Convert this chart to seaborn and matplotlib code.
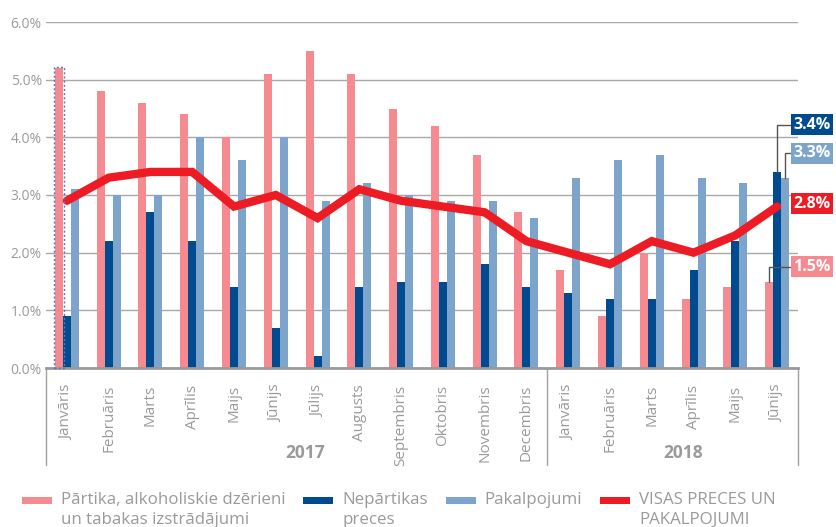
import numpy as np
import pandas as pd
import matplotlib
matplotlib.use("Agg")
import matplotlib.pyplot as plt
import matplotlib.transforms as mtransforms
from matplotlib.patches import Patch, Rectangle
from matplotlib.legend_handler import HandlerBase
import seaborn as sns

months = ["Janvāris", "Februāris", "Marts", "Aprīlis", "Maijs", "Jūnijs", "Jūlijs",
          "Augusts", "Septembris", "Oktobris", "Novembris", "Decembris",
          "Janvāris", "Februāris", "Marts", "Aprīlis", "Maijs", "Jūnijs"]
years = ["2017", "2018"]
series_names = ["Pārtika, alkoholiskie dzērieni\nun tabakas izstrādājumi",
                "Nepārtikas\npreces",
                "Pakalpojumi",
                "VISAS PRECES UN\nPAKALPOJUMI"]
food = [5.2, 4.8, 4.6, 4.4, 4.0, 5.1, 5.5, 5.1, 4.5, 4.2, 3.7, 2.7,
        1.7, 0.9, 2.0, 1.2, 1.4, 1.5]
nonfood = [0.9, 2.2, 2.7, 2.2, 1.4, 0.7, 0.2, 1.4, 1.5, 1.5, 1.8, 1.4,
           1.3, 1.2, 1.2, 1.7, 2.2, 3.4]
services = [3.1, 3.0, 3.0, 4.0, 3.6, 4.0, 2.9, 3.2, 3.0, 2.9, 2.9, 2.6,
            3.3, 3.6, 3.7, 3.3, 3.2, 3.3]
total = [2.9, 3.3, 3.4, 3.4, 2.8, 3.0, 2.6, 3.1, 2.9, 2.8, 2.7, 2.2,
         2.0, 1.8, 2.2, 2.0, 2.3, 2.8]
yticks = [0, 1, 2, 3, 4, 5, 6]

colors = ["#F58A90", "#004A8F", "#7DA4CB", "#ED1C24"]
gray = "#9A9A9A"

sns.set_style("white")
plt.rcParams["font.family"] = ["Open Sans", "DejaVu Sans"]

n = len(months)
pos = np.arange(n)
bars_df = pd.DataFrame({
    "pos": np.tile(pos, 3),
    "value": food + nonfood + services,
    "series": np.repeat(series_names[:3], n),
})
line_df = pd.DataFrame({"pos": pos, "value": total})

fig = plt.figure(figsize=(8.37, 5.27), dpi=100)
ax = fig.add_axes([46 / 837, 1 - 368 / 527, (798 - 46) / 837, (368 - 22) / 527])

sns.barplot(data=bars_df, x="pos", y="value", hue="series", hue_order=series_names[:3],
            palette=colors[:3], width=0.575, linewidth=0, saturation=1, ax=ax,
            legend=False, errorbar=None)
sns.lineplot(data=line_df, x="pos", y="value", color=colors[3], lw=6.0, ax=ax,
             legend=False)
for l in ax.lines:
    l.set_solid_joinstyle("miter")

ax.set_xlim(-0.5, n - 0.5)
ax.set_ylim(0, 6)
ax.set_yticks(yticks)
ax.set_yticklabels([f"{v:.1f}%" for v in yticks], color=gray, fontsize=10)
ax.grid(axis="y", color="#A8A8A8", lw=1)
ax.set_axisbelow(True)
ax.set_xlabel("")
ax.set_ylabel("")
ax.set_xticks(pos)
ax.set_xticklabels(months, rotation=90, color=gray, fontsize=11, va="top", ha="center")
ax.tick_params(axis="both", length=0)
ax.tick_params(axis="x", pad=12)
ax.tick_params(axis="y", pad=3)
for s in ["left", "right", "top"]:
    ax.spines[s].set_visible(False)
ax.spines["bottom"].set_color("#999999")
ax.spines["bottom"].set_linewidth(2)

# separators and year labels
for xv in [-0.5, 11.5, n - 0.5]:
    ax.axvline(xv, ymin=-0.28, ymax=0, color="#A0A0A0", lw=1, clip_on=False)
trans = mtransforms.blended_transform_factory(ax.transData, ax.transAxes)
ax.text(5.7, -0.245, years[0], transform=trans, ha="center", va="center",
        fontsize=12.5, fontweight="bold", color=gray)
ax.text(14.75, -0.245, years[1], transform=trans, ha="center", va="center",
        fontsize=12.5, fontweight="bold", color=gray)

# dotted selection box around first bar
p0 = ax.patches[0]
ax.add_patch(Rectangle((p0.get_x() - 0.03, 0), p0.get_width() + 0.06, p0.get_height() + 0.02,
                       fill=False, ec="#4A7FC8", ls=(0, (1.5, 1.5)), lw=1, zorder=5,
                       clip_on=False))

# value boxes on last month
bw = 0.575 / 3
last = n - 1
label_specs = [
    (nonfood[last], last, 4.22, colors[1], True),
    (services[last], last + bw, 3.72, colors[2], True),
    (total[last], last, 2.85, colors[3], False),
    (food[last], last - bw, 1.76, colors[0], True),
]
box_x = 17.38
for val, bx, by, col, leader in label_specs:
    kw = {}
    if leader:
        kw["arrowprops"] = dict(arrowstyle="-", color="#555555", lw=1,
                                connectionstyle="angle,angleA=0,angleB=90,rad=0",
                                shrinkA=0, shrinkB=0, relpos=(0, 0.5))
    ax.annotate(f"{val:.1f}%", xy=(bx, val), xytext=(box_x, by), textcoords="data",
                ha="left", va="center", fontsize=11.5, fontweight="bold", color="white",
                bbox=dict(boxstyle="square,pad=0.15", fc=col, ec="none"),
                annotation_clip=False, zorder=6, **kw)

fs = 12.2
LS = 1.35
HANDLE_Y_PT = 8.8


class TopHandler(HandlerBase):
    def __init__(self, color, **kw):
        super().__init__(**kw)
        self.color = color

    def create_artists(self, legend, orig_handle, xdescent, ydescent, width, height,
                       fontsize, trans):
        r = Rectangle((-xdescent, HANDLE_Y_PT), width, 5.0, fc=self.color,
                      ec="none", transform=trans)
        return [r]


handles = [Patch(color=c) for c in colors]
labels = [s if "\n" in s else s + "\n" for s in series_names]
leg = fig.legend(handles, labels, loc="upper left", ncol=4, frameon=False,
                 bbox_to_anchor=(22 / 837, 1 - 492 / 527), fontsize=fs,
                 borderpad=0, borderaxespad=0,
                 handlelength=1.77, handleheight=1.0, handletextpad=0.53,
                 columnspacing=1.05, labelspacing=0.1,
                 handler_map={h: TopHandler(c) for h, c in zip(handles, colors)})
for t in leg.get_texts():
    t.set_color(gray)
    t.set_linespacing(LS)

fig.savefig("out.png", dpi=100)
